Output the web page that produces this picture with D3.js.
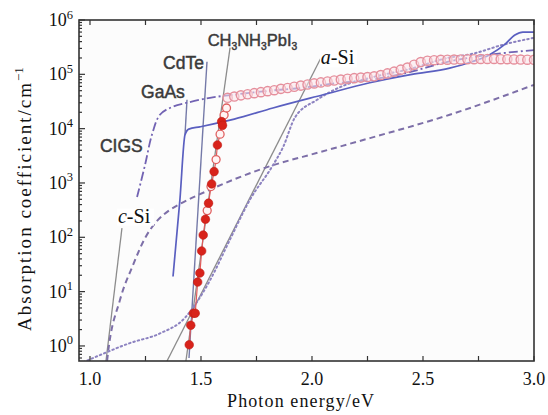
<!DOCTYPE html>
<html><head><meta charset="utf-8">
<script src="https://cdn.jsdelivr.net/npm/d3@7"></script>
<style>body{margin:0;background:#fff}</style>
</head><body><svg id="c" width="548" height="415"></svg>
<script>
// ---- data (photon energy eV, absorption coefficient cm^-1) ----
const xTickValues = [1.0, 1.5, 2.0, 2.5, 3.0];
const xTickLabels = ["1.0", "1.5", "2.0", "2.5", "3.0"];
const yTickExponents = [0, 1, 2, 3, 4, 5, 6];

const perovFilled = [[1.447,1.05],[1.454,2.4],[1.466,4],[1.474,4],[1.485,15],[1.495,22],[1.503,56],[1.51,110],[1.52,215],[1.534,425],[1.548,960],[1.559,1620],[1.574,5000],[1.593,13500],[1.597,11500]];
const perovOpenEdge = [[1.528,310],[1.545,860],[1.568,2700],[1.586,7900],[1.604,17800],[1.615,24000]];
const perovBand = [[1.62,3.7e4],[1.65,3.9e4],[1.68,4.1e4],[1.71,4.3e4],[1.74,4.5e4],[1.77,4.7e4],[1.80,4.9e4],[1.83,5.1e4],[1.86,5.4e4],[1.89,5.6e4],[1.92,5.9e4],[1.95,6.2e4],[1.98,6.5e4],[2.01,6.8e4],[2.04,7.1e4],[2.07,7.4e4],[2.10,7.7e4],[2.13,8.0e4],[2.16,8.3e4],[2.19,8.5e4],[2.22,8.7e4],[2.25,8.9e4],[2.28,9.2e4],[2.31,9.7e4],[2.34,1.04e5],[2.37,1.12e5],[2.40,1.22e5],[2.43,1.33e5],[2.46,1.5e5],[2.49,1.68e5],[2.52,1.78e5],[2.55,1.82e5],[2.58,1.85e5],[2.61,1.86e5],[2.64,1.87e5],[2.67,1.88e5],[2.70,1.9e5],[2.73,1.9e5],[2.76,1.92e5],[2.79,1.92e5],[2.82,1.92e5],[2.85,1.9e5],[2.88,1.9e5],[2.91,1.88e5],[2.94,1.87e5],[2.97,1.86e5],[3.00,1.85e5]];

const gaAs = [[1.374,19],[1.405,490],[1.428,7700],[1.445,9800],[1.495,1.08e4],[1.65,1.5e4],[1.824,2.4e4],[2.05,4.2e4],[2.26,7e4],[2.45,1e5],[2.62,1.3e5],[2.72,1.7e5],[2.80,2.3e5],[2.87,3.6e5],[2.914,5.3e5],[2.95,6e5],[3.0,6e5]];
const cigs = [[1.212,550],[1.248,2150],[1.279,7700],[1.315,1.8e4],[1.369,2.5e4],[1.437,3e4],[1.54,3.7e4],[1.644,4.2e4],[1.81,5e4],[1.946,5.6e4],[2.126,7e4],[2.26,7.9e4],[2.44,1.1e5],[2.61,1.7e5],[2.80,2.3e5],[3.0,2.8e5]];
const cSi = [[1.077,0.53],[1.08,0.68],[1.135,7],[1.194,31],[1.248,97],[1.302,200],[1.36,320],[1.405,410],[1.54,750],[1.788,1900],[2.036,3700],[2.261,6700],[2.62,1.8e4],[3.0,6.4e4]];
const aSi = [[0.97,0.5],[1.045,0.68],[1.18,1.13],[1.315,1.7],[1.428,3.3],[1.473,5.7],[1.54,16],[1.63,90],[1.72,490],[1.82,2000],[1.87,4600],[1.923,1.6e4],[2.023,3.4e4],[2.13,5.9e4],[2.28,9e4],[2.44,1.25e5],[2.61,2e5],[2.725,2.4e5],[2.86,3.5e5],[3.0,4.7e5]];

// edge lines / leader lines (data coordinates)
const edgeLines = [
  [[1.446,0.6],[1.527,1.7e5]],      // CdTe
  [[1.428,7700],[1.437,3.4e4]]      // GaAs leader
];
const leaderLines = [
  [[2.040,2.0e5],[1.347,0.528]],    // a-Si
  [[1.631,3.1e5],[1.432,0.528]],    // CH3NH3PbI3
  [[1.144,148],[1.072,0.528]]       // c-Si
];

// ---- layout ----
const svg = d3.select("#c");
const L = 79, R = 534, T = 20, B = 361;
const x = d3.scaleLinear().domain([0.9505, 3.0]).range([L, R]);
const y = d3.scaleLog().domain([Math.pow(10,-0.277), 1e6]).range([B, T]);

svg.append("defs").append("clipPath").attr("id","clip")
  .append("rect").attr("x",L).attr("y",T).attr("width",R-L).attr("height",B-T);

svg.append("rect").attr("x",L).attr("y",T).attr("width",R-L).attr("height",B-T).attr("fill","#fcfcfc");

const g = svg.append("g").attr("clip-path","url(#clip)");
const line = d3.line().x(d=>x(d[0])).y(d=>y(d[1]));
const curve = d3.line().x(d=>x(d[0])).y(d=>y(d[1])).curve(d3.curveMonotoneX);

// leaders
leaderLines.forEach(l => g.append("path").attr("d", line(l)).attr("fill","none").attr("stroke","#8c8c8c").attr("stroke-width",1.3));
edgeLines.forEach(l => g.append("path").attr("d", line(l)).attr("fill","none").attr("stroke","#7479a8").attr("stroke-width",1.4));

g.append("path").attr("d", curve(cSi)).attr("fill","none").attr("stroke","#7d6fa8").attr("stroke-width",2).attr("stroke-dasharray","6,4");
g.append("path").attr("d", curve(aSi)).attr("fill","none").attr("stroke","#8c82c0").attr("stroke-width",2).attr("stroke-dasharray","1.5,3").attr("stroke-linecap","round");
g.append("path").attr("d", d3.line().x(d=>x(d[0])).y(d=>y(d[1])).curve(d3.curveCatmullRom)(cigs)).attr("fill","none").attr("stroke","#7263b3").attr("stroke-width",1.8).attr("stroke-dasharray","9,3,2,3");
g.append("path").attr("d", curve(gaAs)).attr("fill","none").attr("stroke","#5a5fc0").attr("stroke-width",1.7);

// perovskite band
g.selectAll("circle.band").data(perovBand).enter().append("circle").attr("class","band")
  .attr("cx",d=>x(d[0])).attr("cy",d=>y(d[1])).attr("r",4.6)
  .attr("fill","#fbe4ea").attr("fill-opacity",0.55).attr("stroke","#e58f9c").attr("stroke-width",1.4);

// perovskite edge
const edgeAll = perovFilled.concat(perovOpenEdge).sort((a,b)=>a[0]-b[0]);
g.append("path").attr("d", line(edgeAll)).attr("fill","none").attr("stroke","#e05a5a").attr("stroke-width",1.2);
g.selectAll("circle.op").data(perovOpenEdge).enter().append("circle").attr("class","op")
  .attr("cx",d=>x(d[0])).attr("cy",d=>y(d[1])).attr("r",4)
  .attr("fill","#fff4f4").attr("stroke","#e06060").attr("stroke-width",1.3);
g.selectAll("circle.fi").data(perovFilled).enter().append("circle").attr("class","fi")
  .attr("cx",d=>x(d[0])).attr("cy",d=>y(d[1])).attr("r",4.3)
  .attr("fill","#d8231b").attr("stroke","#c01c16").attr("stroke-width",0.6);

// ---- labels ----
const sans = "'Liberation Sans', Arial, sans-serif";
const serif = "'Liberation Serif', 'Times New Roman', serif";
function sansLabel(px, py, parts, size){
  const t = svg.append("text").attr("x",x(px)).attr("y",y(py)).attr("font-family",sans)
    .attr("font-size",size).attr("fill","#3a3a3a").attr("stroke","#3a3a3a").attr("stroke-width",0.45);
  parts.forEach(p => {
    const s = t.append("tspan").text(p[0]);
    if (p[1]) s.attr("font-size", size*0.62).attr("dy", 4);
    else if (p[2]) s.attr("dy", -4);
  });
}
sansLabel(1.53, 3.3e5, [["CH"],["3",1],["NH",0,1],["3",1],["PbI",0,1],["3",1]], 16.5);
sansLabel(1.329, 1.24e5, [["CdTe"]], 17.5);
sansLabel(1.23, 3.6e4, [["GaAs"]], 17.5);
sansLabel(1.045, 3.7e3, [["CIGS"]], 17.5);

function serifLabel(px, py, ital, rest){
  const xx = x(px), yy = y(py);
  svg.append("rect").attr("x",xx-1).attr("y",yy-14).attr("width",37).attr("height",17).attr("fill","#fff");
  const t = svg.append("text").attr("x",xx).attr("y",yy).attr("font-family",serif).attr("font-size",20).attr("fill","#111");
  t.append("tspan").attr("font-style","italic").text(ital);
  t.append("tspan").text(rest);
}
serifLabel(2.04, 1.53e5, "a", "-Si");
serifLabel(1.126, 186, "c", "-Si");

// ---- frame and ticks ----
const tk = svg.append("g").attr("stroke","#333").attr("stroke-width",1.2);
for (let v = 1.0; v <= 3.0001; v += 0.25) {
  const xx = x(v);
  tk.append("line").attr("x1",xx).attr("x2",xx).attr("y1",B).attr("y2",B-5);
  tk.append("line").attr("x1",xx).attr("x2",xx).attr("y1",T).attr("y2",T+5);
}
yTickExponents.forEach(e => {
  const yy = y(Math.pow(10,e));
  tk.append("line").attr("x1",L).attr("x2",L+6).attr("y1",yy).attr("y2",yy);
  for (let m = 2; m <= 9; m++) {
    const v = m*Math.pow(10,e);
    if (v < y.domain()[1] && v > y.domain()[0]) {
      const ym = y(v);
      tk.append("line").attr("x1",L).attr("x2",L+3).attr("y1",ym).attr("y2",ym);
    }
  }
});
[0.6,0.7,0.8,0.9].forEach(v => { const ym = y(v); tk.append("line").attr("x1",L).attr("x2",L+3).attr("y1",ym).attr("y2",ym); });
svg.append("rect").attr("x",L).attr("y",T).attr("width",R-L).attr("height",B-T)
  .attr("fill","none").attr("stroke","#333").attr("stroke-width",1.6);

// x tick labels
xTickValues.forEach((v,i) => {
  svg.append("text").attr("x",x(v)).attr("y",385).attr("text-anchor","middle")
    .attr("font-family",serif).attr("font-size",18).attr("fill","#111").text(xTickLabels[i]);
});
// y tick labels
yTickExponents.forEach(e => {
  const t = svg.append("text").attr("x",73).attr("y",y(Math.pow(10,e))+6).attr("text-anchor","end")
    .attr("font-family",serif).attr("font-size",18).attr("fill","#111");
  t.append("tspan").text("10");
  t.append("tspan").attr("font-size",12.5).attr("dy",-7.5).text(String(e));
});

// axis titles
svg.append("text").attr("x",227).attr("y",407).attr("text-anchor","start")
  .attr("font-family",serif).attr("font-size",18).attr("fill","#111")
  .attr("textLength",147).attr("lengthAdjust","spacing").text("Photon energy/eV");
const yt = svg.append("text").attr("transform","translate(31,331) rotate(-90)").attr("text-anchor","start")
  .attr("font-family",serif).attr("font-size",19).attr("fill","#111");
yt.append("tspan").attr("textLength",248).attr("lengthAdjust","spacing").text("Absorption coefficient/cm");
yt.append("tspan").attr("font-size",13).attr("dy",-8).text("\u22121");
</script></body></html>
